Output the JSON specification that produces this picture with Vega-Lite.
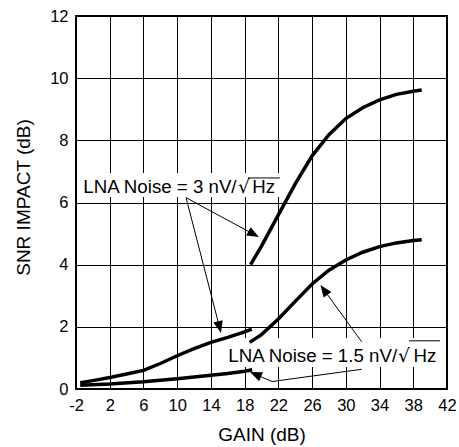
{
  "$schema": "https://vega.github.io/schema/vega-lite/v6.json",
  "width": 371,
  "height": 373,
  "autosize": {"type": "none"},
  "padding": {"left": 76, "top": 16, "right": 12, "bottom": 58},
  "background": "white",
  "config": {
    "view": {"stroke": "black", "strokeWidth": 2},
    "font": "Liberation Sans",
    "axis": {
      "grid": true,
      "gridColor": "black",
      "gridWidth": 1,
      "gridOpacity": 1,
      "domain": false,
      "ticks": false,
      "labelOverlap": false,
      "labelFlush": false,
      "labelFont": "Liberation Sans",
      "labelFontSize": 16.5,
      "labelColor": "black",
      "labelExpr": "replace(datum.label, '−', '-')",
      "titleFont": "Liberation Sans",
      "titleFontSize": 19,
      "titleFontWeight": "normal",
      "titleColor": "black"
    }
  },
  "layer": [
    {
      "data": {"values": [
        {"gain": -1.53, "gain2": 22.55, "snr": 6.18, "snr2": 6.95},
        {"gain": 15.79, "gain2": 41.4, "snr": 0.71, "snr2": 1.64}
      ]},
      "mark": {"type": "rect", "fill": "white", "stroke": null},
      "encoding": {
        "x": {"field": "gain", "type": "quantitative",
          "scale": {"domain": [-2, 42], "nice": false, "zero": false},
          "axis": {"title": "GAIN (dB)", "values": [-2, 2, 6, 10, 14, 18, 22, 26, 30, 34, 38, 42], "tickCount": 40, "format": "d", "labelPadding": 8, "titleBaseline": "alphabetic", "titleY": 51}},
        "x2": {"field": "gain2"},
        "y": {"field": "snr", "type": "quantitative",
          "scale": {"domain": [0, 12], "nice": false},
          "axis": {"title": "SNR IMPACT (dB)", "values": [0, 2, 4, 6, 8, 10, 12], "tickCount": 40, "format": "d", "labelPadding": 8, "titleBaseline": "alphabetic", "titleX": -46.7, "titleY": 181}},
        "y2": {"field": "snr2"}
      }
    },
    {
      "data": {"values": [
        {"series": "3 nV high", "gain": 18.7, "snr": 4.0},
        {"series": "3 nV high", "gain": 20, "snr": 4.6},
        {"series": "3 nV high", "gain": 22, "snr": 5.6},
        {"series": "3 nV high", "gain": 24, "snr": 6.6},
        {"series": "3 nV high", "gain": 26, "snr": 7.5},
        {"series": "3 nV high", "gain": 28, "snr": 8.18},
        {"series": "3 nV high", "gain": 30, "snr": 8.7},
        {"series": "3 nV high", "gain": 32, "snr": 9.05},
        {"series": "3 nV high", "gain": 34, "snr": 9.3},
        {"series": "3 nV high", "gain": 36, "snr": 9.48},
        {"series": "3 nV high", "gain": 38, "snr": 9.58},
        {"series": "3 nV high", "gain": 39, "snr": 9.62},
        {"series": "3 nV low", "gain": -1.5, "snr": 0.2},
        {"series": "3 nV low", "gain": 0, "snr": 0.27},
        {"series": "3 nV low", "gain": 2, "snr": 0.37},
        {"series": "3 nV low", "gain": 4, "snr": 0.48},
        {"series": "3 nV low", "gain": 6, "snr": 0.6},
        {"series": "3 nV low", "gain": 8, "snr": 0.82},
        {"series": "3 nV low", "gain": 10, "snr": 1.07},
        {"series": "3 nV low", "gain": 12, "snr": 1.3},
        {"series": "3 nV low", "gain": 14, "snr": 1.5},
        {"series": "3 nV low", "gain": 16, "snr": 1.66},
        {"series": "3 nV low", "gain": 18, "snr": 1.84},
        {"series": "3 nV low", "gain": 18.85, "snr": 1.93},
        {"series": "1.5 nV low", "gain": -1.5, "snr": 0.12},
        {"series": "1.5 nV low", "gain": 2, "snr": 0.16},
        {"series": "1.5 nV low", "gain": 6, "snr": 0.23},
        {"series": "1.5 nV low", "gain": 10, "snr": 0.33},
        {"series": "1.5 nV low", "gain": 14, "snr": 0.44},
        {"series": "1.5 nV low", "gain": 16, "snr": 0.5},
        {"series": "1.5 nV low", "gain": 18, "snr": 0.57},
        {"series": "1.5 nV low", "gain": 18.9, "snr": 0.62},
        {"series": "1.5 nV high", "gain": 18.6, "snr": 1.5},
        {"series": "1.5 nV high", "gain": 20, "snr": 1.75},
        {"series": "1.5 nV high", "gain": 22, "snr": 2.25},
        {"series": "1.5 nV high", "gain": 24, "snr": 2.82},
        {"series": "1.5 nV high", "gain": 26, "snr": 3.38},
        {"series": "1.5 nV high", "gain": 28, "snr": 3.82},
        {"series": "1.5 nV high", "gain": 30, "snr": 4.15},
        {"series": "1.5 nV high", "gain": 32, "snr": 4.4},
        {"series": "1.5 nV high", "gain": 34, "snr": 4.58},
        {"series": "1.5 nV high", "gain": 36, "snr": 4.7},
        {"series": "1.5 nV high", "gain": 38, "snr": 4.78},
        {"series": "1.5 nV high", "gain": 39, "snr": 4.8}
      ]},
      "mark": {"type": "line", "color": "black", "strokeWidth": 3.5},
      "encoding": {
        "x": {"field": "gain", "type": "quantitative"},
        "y": {"field": "snr", "type": "quantitative"},
        "detail": {"field": "series"}
      }
    },
    {
      "data": {"values": [
        {"gain": 11.05, "snr": 6.155, "gain2": 19.07, "snr2": 4.98},
        {"gain": 11.05, "snr": 6.155, "gain2": 15.02, "snr2": 1.99},
        {"gain": 31.88, "snr": 1.52, "gain2": 27.41, "snr2": 3.19},
        {"gain": 31.88, "snr": 0.634, "gain2": 21.25, "snr2": 0.24},
        {"gain": 21.25, "snr": 0.24, "gain2": 19.29, "snr2": 0.47}
      ]},
      "mark": {"type": "rule", "color": "black", "strokeWidth": 1},
      "encoding": {
        "x": {"field": "gain", "type": "quantitative"},
        "y": {"field": "snr", "type": "quantitative"},
        "x2": {"field": "gain2"},
        "y2": {"field": "snr2"}
      }
    },
    {
      "data": {"values": [{"gain": 19.07, "snr": 4.98}]},
      "mark": {"type": "point", "shape": "M0,-1L0.8,1L-0.8,1Z", "size": 144, "filled": true, "color": "black", "opacity": 1, "angle": 118.3},
      "encoding": {"x": {"field": "gain", "type": "quantitative"}, "y": {"field": "snr", "type": "quantitative"}}
    },
    {
      "data": {"values": [{"gain": 15.02, "snr": 1.99}]},
      "mark": {"type": "point", "shape": "M0,-1L0.8,1L-0.8,1Z", "size": 144, "filled": true, "color": "black", "opacity": 1, "angle": 165.5},
      "encoding": {"x": {"field": "gain", "type": "quantitative"}, "y": {"field": "snr", "type": "quantitative"}}
    },
    {
      "data": {"values": [{"gain": 27.41, "snr": 3.19}]},
      "mark": {"type": "point", "shape": "M0,-1L0.8,1L-0.8,1Z", "size": 144, "filled": true, "color": "black", "opacity": 1, "angle": -36},
      "encoding": {"x": {"field": "gain", "type": "quantitative"}, "y": {"field": "snr", "type": "quantitative"}}
    },
    {
      "data": {"values": [{"gain": 19.29, "snr": 0.47}]},
      "mark": {"type": "point", "shape": "M0,-1L0.8,1L-0.8,1Z", "size": 144, "filled": true, "color": "black", "opacity": 1, "angle": -66.7},
      "encoding": {"x": {"field": "gain", "type": "quantitative"}, "y": {"field": "snr", "type": "quantitative"}}
    },
    {
      "data": {"values": [
        {"gain": -1.13, "snr": 6.30, "label": "LNA Noise = 3 nV/"},
        {"gain": 18.91, "snr": 6.30, "label": "Hz"},
        {"gain": 16.06, "snr": 0.86, "label": "LNA Noise = 1.5 nV/"},
        {"gain": 38.03, "snr": 0.86, "label": "Hz"}
      ]},
      "mark": {"type": "text", "align": "left", "baseline": "alphabetic", "fontSize": 18.7, "font": "Liberation Sans", "color": "black"},
      "encoding": {
        "x": {"field": "gain", "type": "quantitative"},
        "y": {"field": "snr", "type": "quantitative"},
        "text": {"field": "label"}
      }
    },
    {
      "data": {"values": [
        {"gain": 17.22, "snr": 6.30, "label": "√"},
        {"gain": 36.2, "snr": 0.86, "label": "√"}
      ]},
      "mark": {"type": "text", "align": "left", "baseline": "alphabetic", "fontSize": 18.7, "font": "DejaVu Sans", "color": "black"},
      "encoding": {
        "x": {"field": "gain", "type": "quantitative"},
        "y": {"field": "snr", "type": "quantitative"},
        "text": {"field": "label"}
      }
    },
    {
      "data": {"values": [
        {"gain": 18.4, "gain2": 22.19, "snr": 6.79},
        {"gain": 37.5, "gain2": 41.17, "snr": 1.55}
      ]},
      "mark": {"type": "rule", "color": "black", "strokeWidth": 1},
      "encoding": {
        "x": {"field": "gain", "type": "quantitative"},
        "x2": {"field": "gain2"},
        "y": {"field": "snr", "type": "quantitative"}
      }
    }
  ]
}
